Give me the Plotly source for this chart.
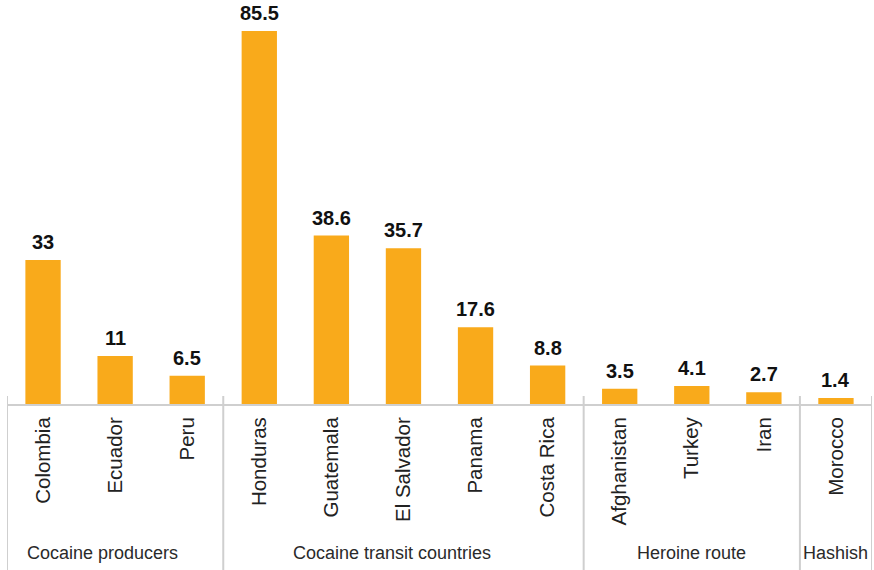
import plotly.graph_objects as go

# Share of seizures / values per country, grouped by trafficking role
countries = ["Colombia", "Ecuador", "Peru",
             "Honduras", "Guatemala", "El Salvador", "Panama", "Costa Rica",
             "Afghanistan", "Turkey", "Iran",
             "Morocco"]
values = [33, 11, 6.5, 85.5, 38.6, 35.7, 17.6, 8.8, 3.5, 4.1, 2.7, 1.4]
value_labels = ["33", "11", "6.5", "85.5", "38.6", "35.7", "17.6", "8.8",
                "3.5", "4.1", "2.7", "1.4"]
groups = ["Cocaine producers", "Cocaine transit countries", "Heroine route", "Hashish"]
group_sizes = [3, 5, 3, 1]

BAR = "#F9AA1B"
GRID = "#CFCFCF"
FONT = "Liberation Sans, Arial, sans-serif"

fig = go.Figure()
fig.add_trace(go.Bar(
    x=list(range(len(countries))),
    y=values,
    marker=dict(color=BAR, line=dict(width=0)),
    hoverinfo="skip",
))

# Bold value labels above each bar
for i, (v, lab) in enumerate(zip(values, value_labels)):
    fig.add_annotation(
        x=i, y=v, text=f"<b>{lab}</b>", showarrow=False,
        xanchor="center", yanchor="bottom", yshift=6, borderpad=0,
        font=dict(family=FONT, size=20, color="#111111"),
    )

# Group separators and group titles
plot_h = 570 - 14 - 166
bounds = [-0.5]
for s in group_sizes:
    bounds.append(bounds[-1] + s)
for b in bounds:
    fig.add_shape(
        type="line", xref="x", yref="paper",
        x0=b, x1=b, y0=8 / plot_h, y1=-166 / plot_h,
        line=dict(color=GRID, width=2),
    )
shifts = [-13, -11, 0, 0]
for g, a, b, sh in zip(groups, bounds[:-1], bounds[1:], shifts):
    fig.add_annotation(
        x=(a + b) / 2, y=-149 / plot_h, xref="x", yref="paper",
        text=g, showarrow=False, xanchor="center", yanchor="middle",
        xshift=sh,
        font=dict(family=FONT, size=18, color="#2a2a2a"),
    )

fig.update_layout(
    width=874, height=570,
    margin=dict(l=7, r=2, t=14, b=166),
    paper_bgcolor="white", plot_bgcolor="white",
    showlegend=False,
    bargap=0.51,
    xaxis=dict(
        range=[-0.5, len(countries) - 0.5],
        tickmode="array",
        tickvals=list(range(len(countries))),
        ticktext=countries,
        tickangle=-90,
        ticks="",
        ticklabelstandoff=3,
        tickfont=dict(family=FONT, size=20.5, color="#222222"),
        showline=True, linecolor=GRID, linewidth=2,
        showgrid=False, zeroline=False, fixedrange=True,
    ),
    yaxis=dict(
        range=[0, 89.4], visible=False, showgrid=False,
        zeroline=False, fixedrange=True,
    ),
)

fig.write_html("out.html")
